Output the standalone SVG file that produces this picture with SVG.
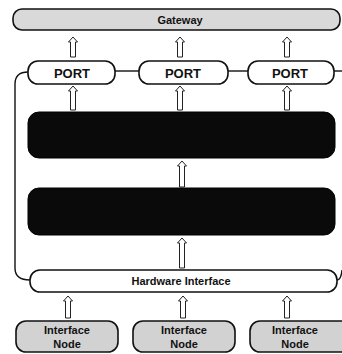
<svg xmlns="http://www.w3.org/2000/svg" width="342" height="354" viewBox="0 0 342 354">
<defs>
<style>
.gw{fill:#d9d9d9;stroke:#111;stroke-width:1.6}
.port{fill:#fff;stroke:#111;stroke-width:1.6}
.blk{fill:#0a0a0a;stroke:#000;stroke-width:1}
.hw{fill:#fff;stroke:#111;stroke-width:1.6}
.nd{fill:#d2d2d2;stroke:#111;stroke-width:1.6}
.t{font-family:"Liberation Sans",Arial,sans-serif;font-weight:bold;fill:#111;text-anchor:middle}
.ln{fill:none;stroke:#111;stroke-width:1.4}
.ar{fill:#fff;stroke:#222;stroke-width:1}
</style>
</defs>
<g id="connectors">
<path class="ln" d="M28,72 Q15,72 15,84 L15,268 Q15,280 30,280"/>
<line class="ln" x1="115" y1="71" x2="139" y2="71"/>
<line class="ln" x1="228" y1="71" x2="248" y2="71"/>
<line class="ln" x1="334" y1="71" x2="342" y2="71"/>
<path class="ln" d="M337,280 Q341,280 342,270"/>
<path class="ar" d="M70.5,57 V42 H68.5 L73,37 L77.5,42 H75.5 V57 Z"/>
<path class="ar" d="M177.5,57 V42 H175.5 L180,37 L184.5,42 H182.5 V57 Z"/>
<path class="ar" d="M284.5,57 V42 H282.5 L287,37 L291.5,42 H289.5 V57 Z"/>
<path class="ar" d="M70.5,110 V91 H68.5 L73,86 L77.5,91 H75.5 V110 Z"/>
<path class="ar" d="M177.5,110 V91 H175.5 L180,86 L184.5,91 H182.5 V110 Z"/>
<path class="ar" d="M284.5,110 V91 H282.5 L287,86 L291.5,91 H289.5 V110 Z"/>
<path class="ar" d="M179.5,187 V166 H177.5 L182,161 L186.5,166 H184.5 V187 Z"/>
<path class="ar" d="M179.5,268 V243 H177.5 L182,238 L186.5,243 H184.5 V268 Z"/>
<path class="ar" d="M65.5,318 V301 H63.5 L68,296 L72.5,301 H70.5 V318 Z"/>
<path class="ar" d="M180.5,318 V301 H178.5 L183,296 L187.5,301 H185.5 V318 Z"/>
<path class="ar" d="M284.5,318 V301 H282.5 L287,296 L291.5,301 H289.5 V318 Z"/>
</g>
<g id="gateway">
<rect class="gw" x="13" y="9" width="327" height="21" rx="9"/>
<text class="t" x="180" y="23.5" font-size="11">Gateway</text>
</g>
<g id="port1">
<rect class="port" x="28" y="61" width="87" height="23" rx="10"/>
<text class="t" x="72" y="77.5" font-size="13">PORT</text>
</g>
<g id="port2">
<rect class="port" x="139" y="61" width="89" height="23" rx="10"/>
<text class="t" x="183" y="77.5" font-size="13">PORT</text>
</g>
<g id="port3">
<rect class="port" x="248" y="61" width="86" height="23" rx="10"/>
<text class="t" x="290" y="77.5" font-size="13">PORT</text>
</g>
<g id="block1">
<rect class="blk" x="28" y="112" width="307" height="46" rx="11"/>
</g>
<g id="block2">
<rect class="blk" x="28" y="188" width="307" height="47" rx="11"/>
</g>
<g id="hardware">
<rect class="hw" x="30" y="270" width="307" height="22" rx="10"/>
<text class="t" x="181" y="285" font-size="11">Hardware Interface</text>
</g>
<g id="node1">
<rect class="nd" x="16" y="321" width="102" height="31" rx="10"/>
<text class="t" x="67" y="334" font-size="11">Interface</text>
<text class="t" x="67" y="348" font-size="11">Node</text>
</g>
<g id="node2">
<rect class="nd" x="133" y="321" width="102" height="31" rx="10"/>
<text class="t" x="184" y="334" font-size="11">Interface</text>
<text class="t" x="184" y="348" font-size="11">Node</text>
</g>
<g id="node3">
<rect class="nd" x="250" y="321" width="102" height="31" rx="10"/>
<text class="t" x="295" y="334" font-size="11">Interface</text>
<text class="t" x="295" y="348" font-size="11">Node</text>
</g>
</svg>
